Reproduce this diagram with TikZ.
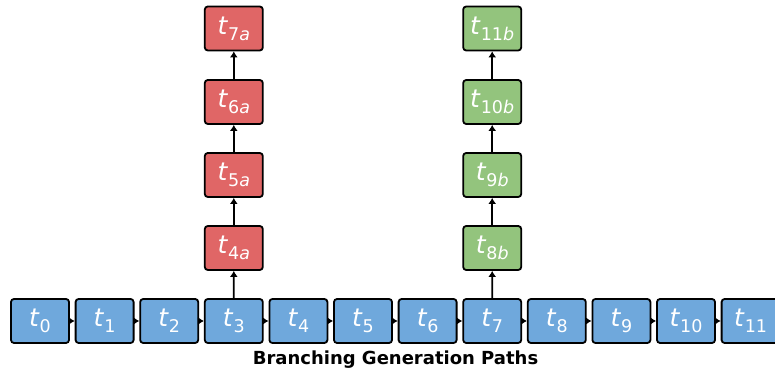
\documentclass[tikz,border=0pt]{standalone}
\usepackage{fontspec}
\setmainfont{DejaVu Sans}
\usetikzlibrary{arrows.meta}
\definecolor{tokblue}{RGB}{111,168,220}
\definecolor{tokred}{RGB}{224,102,102}
\definecolor{tokgreen}{RGB}{147,196,125}
\newcommand{\tokl}[2]{{\fontsize{25}{25}\selectfont\textit{t}\raisebox{-0.24em}{\fontsize{17.5}{17.5}\selectfont #1\textit{#2}}}}
\tikzset{
  tok/.style={draw=black, line width=1.8pt, rounded corners=3pt, minimum width=58pt, minimum height=44pt, inner sep=0pt, text=white},
  blue/.style={tok, fill=tokblue},
  redb/.style={tok, fill=tokred},
  greenb/.style={tok, fill=tokgreen},
  conn/.style={draw=black, line width=1.8pt, -{Latex[length=6pt,width=8pt]}},
}
\begin{document}
\begin{tikzpicture}[x=1pt,y=1pt]
\useasboundingbox (0,0) rectangle (775,371);
\clip (0,0) rectangle (775,371);
\foreach \i in {0,...,11} {
  \node[blue] (b\i) at ({40+64.6*\i},50) {\tokl{\i}{}};
}
\foreach \i [count=\j from 1] in {0,...,10} {
  \draw[conn] (b\i) -- (b\j);
}
\node[redb] (r4) at (233.8,123) {\tokl{4}{a}};
\node[redb] (r5) at (233.8,196) {\tokl{5}{a}};
\node[redb] (r6) at (233.8,269) {\tokl{6}{a}};
\node[redb] (r7) at (233.8,342.5) {\tokl{7}{a}};
\node[greenb] (g8) at (492.2,123) {\tokl{8}{b}};
\node[greenb] (g9) at (492.2,196) {\tokl{9}{b}};
\node[greenb] (g10) at (492.2,269) {\tokl{10}{b}};
\node[greenb] (g11) at (492.2,342.5) {\tokl{11}{b}};
\draw[conn] (b3) -- (r4);
\draw[conn] (r4) -- (r5);
\draw[conn] (r5) -- (r6);
\draw[conn] (r6) -- (r7);
\draw[conn] (b7) -- (g8);
\draw[conn] (g8) -- (g9);
\draw[conn] (g9) -- (g10);
\draw[conn] (g10) -- (g11);
\node[font=\bfseries\fontsize{18}{18}\selectfont] (title) at (395.5,11) {Branching Generation Paths};
\end{tikzpicture}
\end{document}
